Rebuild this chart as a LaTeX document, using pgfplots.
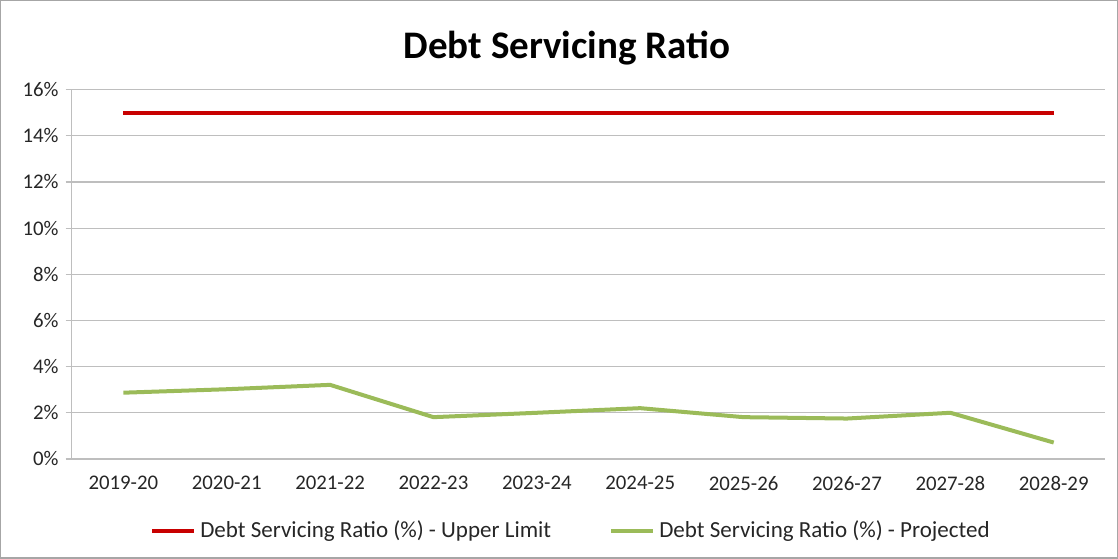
\documentclass[border=0pt]{standalone}
\usepackage{pgfplots}
\pgfplotsset{compat=1.18}
\usepackage{fontspec}
\setmainfont{Carlito}
\definecolor{limred}{RGB}{200,0,0}
\definecolor{projgreen}{RGB}{155,187,89}
\definecolor{gridgray}{RGB}{190,190,190}
\begin{document}
\begin{tikzpicture}
\draw[gray!70, line width=0.6pt] (0.5pt,0.5pt) rectangle (558.5pt,279pt);
\node[font=\fontsize{19.5}{23}\selectfont\bfseries] at (283.5pt,255.5pt) {Debt Servicing Ratio};
\begin{axis}[
  at={(36pt,50pt)}, anchor=south west,
  scale only axis, width=516.5pt, height=184.5pt,
  xmin=-0.5, xmax=9.5, ymin=0, ymax=16,
  xtick={0,...,9},
  xticklabels={2019-20,2020-21,2021-22,2022-23,2023-24,2024-25,2025-26,2026-27,2027-28,2028-29},
  major x tick style={draw=none},
  extra x ticks={-0.5,0.5,1.5,2.5,3.5,4.5,5.5,6.5,7.5,8.5,9.5},
  extra x tick labels={},
  extra x tick style={major tick length=3pt, tick style={gridgray, line width=0.6pt}, tick align=outside, grid=none},
  ytick={0,2,...,16},
  yticklabel={\pgfmathprintnumber{\tick}\%},
  /pgf/number format/assume math mode=true,
  ymajorgrids, grid style={gridgray, line width=0.6pt},
  axis x line*=bottom, axis y line*=left,
  axis line style={gridgray, line width=0.6pt},
  y tick style={gridgray, line width=0.6pt},
  tick align=outside, major tick length=3pt,
  tick label style={font=\fontsize{10.4}{12}\selectfont, text=black!85},
  xticklabel style={yshift=-2pt},
  legend columns=2,
  legend style={at={(0.484,-0.195)}, anchor=center, draw=none, fill=none,
    font=\fontsize{11.5}{13}\selectfont, text=black!85,
    /tikz/every even column/.append style={column sep=27pt}},
  legend image code/.code={\draw[#1] (0pt,0pt) -- (21pt,0pt);},
]
\addplot[limred, line width=2pt] coordinates {(0,15)(1,15)(2,15)(3,15)(4,15)(5,15)(6,15)(7,15)(8,15)(9,15)};
\addlegendentry{Debt Servicing Ratio (\%) - Upper Limit}
\addplot[projgreen, line width=2pt] coordinates {(0,2.87)(1,3.02)(2,3.21)(3,1.81)(4,2.0)(5,2.2)(6,1.81)(7,1.75)(8,2.0)(9,0.71)};
\addlegendentry{Debt Servicing Ratio (\%) - Projected}
\end{axis}
\end{tikzpicture}
\end{document}
